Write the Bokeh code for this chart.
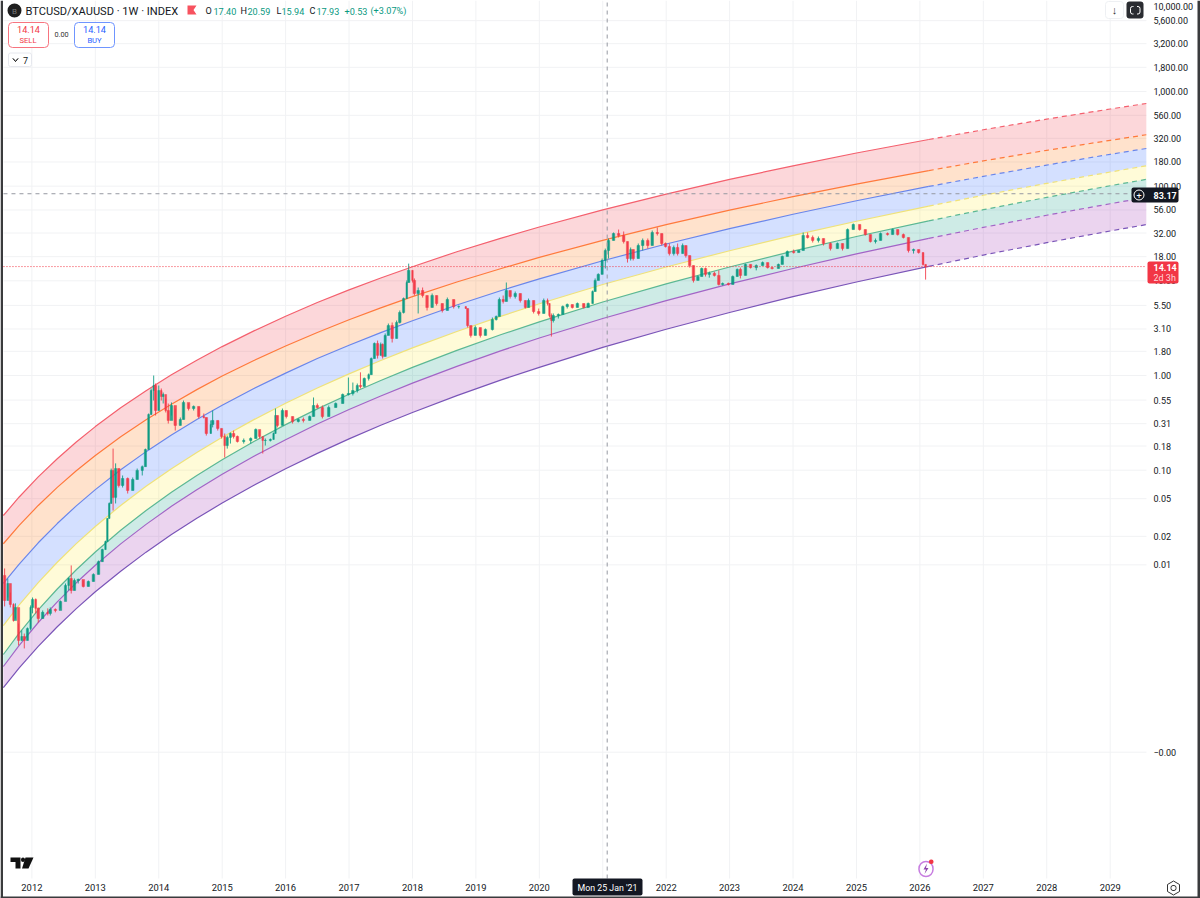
from bokeh.plotting import figure
from bokeh.embed import file_html
from bokeh.resources import INLINE
from bokeh.models import Label, BoxAnnotation, PolyAnnotation, FixedTicker, Range1d

# ---------- axis labels ----------
year_ticks = [2012, 2013, 2014, 2015, 2016, 2017, 2018, 2019, 2020, 2021, 2022, 2023, 2024, 2025, 2026, 2027, 2028, 2029]
price_ticks = [5600, 3200, 1800, 1000, 560, 320, 180, 100, 56, 32, 18, 10, 5.5, 3.1, 1.8, 1, 0.55, 0.31, 0.18, 0.1, 0.05, 0.02, 0.01, 0.000105]
price_labels = ["5,600.00", "3,200.00", "1,800.00", "1,000.00", "560.00", "320.00", "180.00", "100.00", "56.00", "32.00", "18.00", "10.00",
                "5.50", "3.10", "1.80", "1.00", "0.55", "0.31", "0.18", "0.10", "0.05", "0.02", "0.01", "\u22120.00"]

# ---------- rainbow band edges, read at these years ----------
band_years = [2011.55, 2011.8, 2012.1, 2012.4, 2012.7, 2013, 2013.4, 2013.8, 2014.2, 2014.6, 2015, 2015.5, 2016, 2016.5, 2017, 2017.5, 2018, 2018.7, 2019.4, 2020, 2021, 2022, 2023, 2024, 2025, 2026.14, 2027, 2028, 2029, 2029.57]
band_red = [0.0332, 0.0521, 0.0849, 0.1322, 0.1984, 0.2886, 0.456, 0.692, 1.016, 1.45, 2.02, 2.96, 4.23, 5.9, 8.03, 10.7, 14.1, 20.3, 28.3, 37.0, 56.2, 82.5, 118, 164, 224, 311, 394, 511, 653, 747]
band_orange = [0.0167, 0.0261, 0.0424, 0.0658, 0.0985, 0.1429, 0.225, 0.34, 0.498, 0.709, 0.986, 1.44, 2.05, 2.85, 3.88, 5.18, 6.8, 9.72, 13.5, 17.7, 26.8, 39.2, 55.8, 77.5, 105, 146, 185, 239, 305, 349]
band_blue = [0.00636, 0.0102, 0.0171, 0.0273, 0.042, 0.0623, 0.101, 0.157, 0.235, 0.343, 0.486, 0.729, 1.06, 1.51, 2.09, 2.84, 3.79, 5.55, 7.9, 10.5, 16.3, 24.5, 35.6, 50.5, 70.1, 99.3, 127, 167, 217, 250]
band_yellow = [0.00228, 0.00377, 0.0065, 0.01066, 0.01676, 0.02545, 0.0424, 0.0675, 0.1037, 0.154, 0.223, 0.342, 0.509, 0.737, 1.04, 1.44, 1.96, 2.92, 4.24, 5.73, 9.14, 14.0, 20.8, 30.2, 42.6, 61.6, 80.1, 107, 141, 164]
band_green = [0.00113, 0.0019, 0.00334, 0.00556, 0.00888, 0.01368, 0.0232, 0.0375, 0.0584, 0.088, 0.129, 0.201, 0.303, 0.444, 0.634, 0.886, 1.22, 1.84, 2.71, 3.69, 5.98, 9.3, 14.0, 20.6, 29.4, 43.0, 56.4, 76.1, 101, 118]
band_purple = [0.000844, 0.00141, 0.00246, 0.00407, 0.00646, 0.00989, 0.01666, 0.02676, 0.0415, 0.0622, 0.0907, 0.14, 0.21, 0.307, 0.437, 0.608, 0.83, 1.25, 1.83, 2.49, 4.0, 6.19, 9.29, 13.5, 19.3, 28.1, 36.7, 49.3, 65.2, 76.0]
band_bottom = [0.000506, 0.000816, 0.001374, 0.00222, 0.00345, 0.00519, 0.00857, 0.01362, 0.02087, 0.03105, 0.04494, 0.0692, 0.1034, 0.1505, 0.214, 0.298, 0.407, 0.613, 0.899, 1.22, 1.98, 3.08, 4.63, 6.8, 9.72, 14.2, 18.7, 25.3, 33.6, 39.3]
solid_until = 2026.14

# ---------- price candles ----------
first_open = 0.00773
candle_years = [
 2011.57, 2011.62, 2011.66, 2011.71, 2011.74, 2011.79, 2011.84, 2011.88, 2011.93, 2011.98,
 2012.01, 2012.06, 2012.10, 2012.17, 2012.25, 2012.29, 2012.37, 2012.45, 2012.53, 2012.58,
 2012.62, 2012.67, 2012.73, 2012.81, 2012.89, 2012.97, 2013.05, 2013.11, 2013.16, 2013.19,
 2013.22, 2013.25, 2013.28, 2013.32, 2013.37, 2013.43, 2013.51, 2013.59, 2013.66, 2013.74,
 2013.79, 2013.84, 2013.88, 2013.92, 2013.95, 2014.00, 2014.04, 2014.07, 2014.11, 2014.15,
 2014.20, 2014.26, 2014.34, 2014.39, 2014.47, 2014.55, 2014.63, 2014.71, 2014.75, 2014.82,
 2014.85, 2014.93, 2014.99, 2015.04, 2015.08, 2015.13, 2015.18, 2015.24, 2015.34, 2015.45,
 2015.53, 2015.59, 2015.64, 2015.68, 2015.76, 2015.81, 2015.84, 2015.87, 2015.95, 2016.01,
 2016.11, 2016.20, 2016.28, 2016.38, 2016.44, 2016.50, 2016.58, 2016.68, 2016.79, 2016.90,
 2016.99, 2017.06, 2017.13, 2017.18, 2017.24, 2017.31, 2017.35, 2017.40, 2017.45, 2017.50,
 2017.53, 2017.57, 2017.62, 2017.68, 2017.75, 2017.80, 2017.86, 2017.91, 2017.94, 2018.00,
 2018.03, 2018.09, 2018.16, 2018.23, 2018.31, 2018.38, 2018.47, 2018.55, 2018.65, 2018.73,
 2018.84, 2018.87, 2018.92, 2018.99, 2019.07, 2019.15, 2019.26, 2019.32, 2019.37, 2019.43,
 2019.48, 2019.54, 2019.62, 2019.70, 2019.78, 2019.83, 2019.91, 2019.99, 2020.07, 2020.13,
 2020.16, 2020.19, 2020.22, 2020.30, 2020.37, 2020.44, 2020.52, 2020.60, 2020.70, 2020.77,
 2020.84, 2020.88, 2020.93, 2020.99, 2021.04, 2021.09, 2021.17, 2021.25, 2021.33, 2021.39,
 2021.44, 2021.48, 2021.56, 2021.63, 2021.71, 2021.78, 2021.86, 2021.93, 2021.99, 2022.05,
 2022.12, 2022.18, 2022.26, 2022.31, 2022.37, 2022.43, 2022.50, 2022.56, 2022.62, 2022.68,
 2022.76, 2022.83, 2022.89, 2022.98, 2023.05, 2023.12, 2023.17, 2023.25, 2023.33, 2023.42,
 2023.52, 2023.60, 2023.67, 2023.77, 2023.83, 2023.91, 2024.01, 2024.09, 2024.16, 2024.23,
 2024.31, 2024.40, 2024.48, 2024.59, 2024.70, 2024.78, 2024.86, 2024.95, 2025.05, 2025.14,
 2025.22, 2025.30, 2025.38, 2025.49, 2025.57, 2025.65, 2025.74, 2025.82, 2025.90, 2025.98,
 2026.05, 2026.09]
candle_close = [
 0.0042, 0.00635, 0.00382, 0.00258, 0.00355, 0.00159, 0.00175, 0.00159, 0.00212, 0.00355,
 0.00431, 0.00347, 0.00271, 0.00315, 0.00307, 0.00338, 0.0033, 0.0041, 0.00606, 0.00717,
 0.00536, 0.00683, 0.007, 0.00591, 0.00667, 0.00793, 0.0108, 0.0145, 0.0176, 0.0309,
 0.0445, 0.0994, 0.0516, 0.104, 0.0689, 0.0817, 0.061, 0.0797, 0.0994, 0.109,
 0.165, 0.387, 0.694, 0.784, 0.427, 0.694, 0.6, 0.63, 0.427, 0.335,
 0.482, 0.297, 0.343, 0.519, 0.448, 0.471, 0.369, 0.36, 0.244, 0.304,
 0.335, 0.276, 0.227, 0.182, 0.222, 0.244, 0.227, 0.201, 0.206, 0.216,
 0.269, 0.227, 0.206, 0.206, 0.211, 0.244, 0.378, 0.297, 0.427, 0.369,
 0.327, 0.343, 0.335, 0.369, 0.482, 0.459, 0.369, 0.459, 0.506, 0.63,
 0.645, 0.694, 0.784, 0.765, 0.93, 1.02, 1.51, 2.18, 1.63, 2.13,
 1.59, 2.65, 3.37, 2.46, 3.63, 4.63, 6.5, 9.6, 12.9, 10.1,
 7.35, 7.9, 7.0, 5.23, 7.0, 5.76, 4.86, 6.35, 5.35, 5.35,
 5.1, 3.37, 2.65, 3.21, 2.65, 3.06, 3.9, 4.2, 6.35, 6.05,
 7.9, 6.83, 7.35, 6.2, 5.23, 6.2, 4.74, 4.52, 6.2, 5.76,
 4.3, 3.81, 4.3, 4.41, 5.35, 5.62, 5.23, 5.76, 5.23, 5.76,
 7.71, 10.1, 11.7, 16.4, 20.9, 26.7, 31.6, 30.1, 26.0, 17.2,
 21.4, 17.2, 23.6, 26.7, 23.6, 32.4, 31.6, 24.8, 23.0, 19.4,
 22.5, 19.4, 23.6, 18.5, 14.5, 10.1, 11.1, 13.5, 11.7, 12.0,
 11.4, 9.15, 9.37, 9.15, 11.1, 13.2, 11.4, 14.9, 13.8, 14.5,
 15.6, 13.8, 13.5, 14.9, 18.1, 20.4, 19.9, 20.9, 30.1, 28.7,
 26.7, 28.0, 24.8, 21.9, 24.8, 21.9, 34.8, 39.4, 34.8, 30.8,
 26.0, 26.7, 31.6, 30.8, 34.8, 30.8, 28.7, 20.9, 21.4, 19.9,
 14.9, 14.14]
candle_high = [
 0.00916, 0.00717, 0.0051, 0.00392, 0.00392, 0.0024, 0.00203, 0.00188, 0.00218, 0.00373,
 0.00452, 0.00441, 0.00355, 0.0033, 0.00347, 0.00355, 0.00347, 0.0042, 0.00635, 0.00735,
 0.00986, 0.00717, 0.00717, 0.00683, 0.00683, 0.00812, 0.0111, 0.0148, 0.018, 0.0309,
 0.0456, 0.104, 0.169, 0.118, 0.104, 0.0879, 0.0837, 0.0837, 0.104, 0.112,
 0.169, 0.397, 0.729, 1.0, 0.823, 0.784, 0.729, 0.661, 0.572, 0.506,
 0.519, 0.448, 0.36, 0.544, 0.506, 0.482, 0.471, 0.397, 0.36, 0.335,
 0.427, 0.335, 0.276, 0.244, 0.232, 0.25, 0.262, 0.232, 0.216, 0.222,
 0.276, 0.262, 0.222, 0.216, 0.216, 0.25, 0.448, 0.378, 0.448, 0.427,
 0.369, 0.352, 0.36, 0.378, 0.586, 0.506, 0.482, 0.482, 0.519, 0.645,
 0.952, 0.843, 0.823, 1.08, 0.952, 1.05, 1.55, 2.23, 2.34, 2.23,
 2.18, 2.78, 3.54, 3.63, 3.81, 4.86, 6.66, 10.1, 15.2, 12.9,
 10.6, 8.5, 8.5, 7.0, 7.35, 7.0, 5.76, 6.66, 6.35, 5.49,
 5.35, 5.1, 3.37, 3.37, 3.21, 3.14, 4.1, 4.3, 6.66, 7.0,
 9.6, 7.9, 7.71, 7.35, 6.2, 6.5, 6.2, 5.1, 6.5, 6.5,
 5.76, 4.52, 4.52, 4.52, 5.49, 5.76, 5.62, 5.9, 5.76, 5.9,
 7.9, 10.6, 12.0, 17.2, 21.9, 28.0, 32.4, 34.8, 33.2, 26.0,
 22.5, 21.4, 24.8, 28.0, 28.0, 34.0, 36.6, 31.6, 25.4, 24.8,
 23.6, 24.8, 24.8, 23.6, 18.5, 14.5, 11.4, 13.8, 13.8, 12.5,
 12.5, 12.9, 9.6, 9.6, 11.4, 13.5, 13.8, 15.2, 14.9, 14.9,
 16.0, 15.6, 14.14, 15.2, 18.5, 20.9, 21.4, 20.9, 32.4, 32.4,
 30.1, 29.4, 28.0, 25.4, 25.4, 24.8, 35.7, 40.3, 39.4, 34.8,
 30.8, 28.0, 32.4, 32.4, 35.7, 34.8, 31.6, 28.7, 21.9, 21.4,
 19.9, 14.9]
candle_low = [
 0.00364, 0.00452, 0.00355, 0.00252, 0.00271, 0.00141, 0.00159, 0.00131, 0.00159, 0.00203,
 0.00307, 0.00307, 0.00246, 0.00271, 0.00292, 0.00292, 0.00315, 0.00347, 0.00476, 0.00536,
 0.00498, 0.00536, 0.00635, 0.00577, 0.00591, 0.00667, 0.00793, 0.0108, 0.0145, 0.0176,
 0.0309, 0.0445, 0.0375, 0.0445, 0.0656, 0.0656, 0.0567, 0.061, 0.0797, 0.0879,
 0.109, 0.165, 0.387, 0.544, 0.378, 0.427, 0.544, 0.506, 0.407, 0.311,
 0.378, 0.262, 0.297, 0.343, 0.427, 0.427, 0.352, 0.352, 0.232, 0.244,
 0.283, 0.262, 0.216, 0.136, 0.169, 0.191, 0.216, 0.196, 0.191, 0.191,
 0.216, 0.216, 0.15, 0.182, 0.201, 0.211, 0.244, 0.283, 0.297, 0.352,
 0.311, 0.319, 0.319, 0.335, 0.369, 0.448, 0.352, 0.369, 0.459, 0.506,
 0.615, 0.615, 0.661, 0.729, 0.765, 0.885, 1.02, 1.51, 1.51, 1.63,
 1.51, 1.59, 2.65, 2.23, 2.46, 3.54, 4.52, 6.5, 9.6, 9.6,
 7.0, 4.52, 6.66, 4.86, 5.23, 5.49, 4.63, 4.86, 5.1, 5.1,
 5.1, 3.21, 2.52, 2.65, 2.52, 2.65, 2.99, 3.81, 4.2, 5.76,
 6.05, 6.5, 6.5, 5.9, 5.1, 5.23, 4.52, 4.3, 4.52, 5.49,
 4.1, 2.58, 3.63, 4.0, 4.41, 5.1, 5.1, 5.23, 5.1, 5.23,
 5.76, 7.71, 10.1, 11.7, 13.5, 17.2, 26.7, 28.7, 24.8, 15.6,
 16.4, 16.4, 17.2, 20.9, 21.9, 23.6, 30.1, 23.6, 22.5, 18.5,
 18.5, 18.5, 19.4, 17.6, 13.8, 9.6, 10.1, 11.1, 11.1, 10.8,
 11.1, 8.92, 8.92, 8.92, 9.15, 11.1, 10.6, 11.4, 13.5, 12.9,
 14.5, 13.5, 13.2, 13.5, 14.9, 18.1, 19.4, 19.9, 20.9, 28.0,
 25.4, 25.4, 23.6, 20.9, 21.9, 20.9, 21.9, 34.8, 34.0, 30.1,
 25.4, 24.8, 26.7, 30.1, 30.8, 30.1, 28.0, 19.9, 19.4, 19.4,
 14.5, 10.3]

# ---------- readouts ----------
last_price = 14.14
cross_price = 83.17
cross_year = 2021.07

FONT = "Roboto"
INK = "#131722"
UP = "#089981"
DOWN = "#f23645"

# the chart pane; the frame itself covers the whole canvas and the axes sit at the pane's edges
PANE_X = (2011.552, 2029.572)
PANE_Y = (4.86e-6, 9143)

p = figure(width=1200, height=898, output_backend="svg", toolbar_location=None,
           y_axis_type="log", y_axis_location="right",
           x_range=Range1d(2011.505, 2030.424), y_range=Range1d(2.99e-6, 9143),
           min_border_left=0, min_border_right=0, min_border_top=0, min_border_bottom=0)
p.outline_line_color = None
p.background_fill_color = "white"
p.grid.visible = False

p.xaxis[0].fixed_location = PANE_Y[0]
p.yaxis[0].fixed_location = PANE_X[1]
for ax in (p.xaxis[0], p.yaxis[0]):
    ax.axis_line_color = None
    ax.major_tick_line_color = None
    ax.minor_tick_line_color = None
    ax.major_tick_in = 0
    ax.major_tick_out = 0
    ax.minor_tick_in = 0
    ax.minor_tick_out = 0
    ax.major_label_text_font = FONT
    ax.major_label_text_color = INK
p.xaxis[0].major_label_text_font_size = "9.4px"
p.yaxis[0].major_label_text_font_size = "9px"
p.xaxis[0].ticker = FixedTicker(ticks=year_ticks)
p.xaxis[0].major_label_overrides = {y: str(y) for y in year_ticks}
p.xaxis[0].major_label_standoff = 5
p.yaxis[0].ticker = FixedTicker(ticks=price_ticks)
p.yaxis[0].major_label_overrides = dict(zip(price_ticks, price_labels))
p.yaxis[0].major_label_standoff = 7

# grid rules stop at the pane's edges
GRID = "#f1f2f4"
p.segment(year_ticks, [PANE_Y[0]] * len(year_ticks), year_ticks, [PANE_Y[1]] * len(year_ticks), line_color=GRID, line_width=1, level="underlay")
p.segment([PANE_X[0]] * len(price_ticks), price_ticks, [PANE_X[1]] * len(price_ticks), price_ticks, line_color=GRID, line_width=1, level="underlay")

# bands
edges = [band_red, band_orange, band_blue, band_yellow, band_green, band_purple, band_bottom]
fills = ["#f23645", "#ff6d00", "#2962ff", "#ffeb3b", "#089981", "#9c27b0"]
strokes = ["#f4606e", "#ff7a3c", "#6a86ea", "#efe27a", "#5cb894", "#a265c6", "#7a55b8"]
for i, c in enumerate(fills):
    p.varea(x=band_years, y1=edges[i], y2=edges[i + 1], fill_color=c, fill_alpha=0.2)
split = band_years.index(solid_until)
for e, c in zip(edges, strokes):
    p.line(band_years[:split + 1], e[:split + 1], line_color=c, line_width=1.2)
    p.line(band_years[split:], e[split:], line_color=c, line_width=1.2, line_dash=[5, 4])

# candles
opens = [first_open] + candle_close[:-1]
cols = [UP if c >= o else DOWN for o, c in zip(opens, candle_close)]
gaps = [b - a for a, b in zip(candle_years, candle_years[1:])] + [0.04]
body_w = [min(max(g * 0.7, 0.024), 0.04) for g in gaps]
p.segment(candle_years, candle_low, candle_years, candle_high, line_color=cols, line_width=1, line_alpha=0.85)
p.vbar(x=candle_years, width=body_w, top=candle_close, bottom=opens, fill_color=cols, line_color=cols, line_width=0.5, fill_alpha=0.85, line_alpha=0.85)

# cross-hair and last price line
p.line(PANE_X, [last_price, last_price], line_color=DOWN, line_dash=[1, 2], line_width=1)
p.line([cross_year, cross_year], PANE_Y, line_color="#9598a1", line_dash=[4, 4], line_width=1)
p.line(PANE_X, [cross_price, cross_price], line_color="#9598a1", line_dash=[4, 4], line_width=1)


def box(l, r, t, b, fill=None, line=None, radius=0, lw=1):
    p.add_layout(BoxAnnotation(left=l, right=r, top=t, bottom=b,
                               left_units="canvas", right_units="canvas", top_units="canvas", bottom_units="canvas",
                               fill_color=fill or "white", fill_alpha=1 if fill else 0,
                               line_color=line or "white", line_alpha=1 if line else 0, line_width=lw,
                               border_radius=int(radius)))


def poly(xs, ys, fill=None, line=None, lw=1):
    p.add_layout(PolyAnnotation(xs=xs, ys=ys, xs_units="canvas", ys_units="canvas",
                                fill_color=fill or "white", fill_alpha=1 if fill else 0,
                                line_color=line or "white", line_alpha=1 if line else 0, line_width=lw))


def text(x, y, s, size=10, color=INK, align="left", weight="normal", baseline="middle"):
    p.add_layout(Label(x=x, y=y, x_units="canvas", y_units="canvas", text=s, text_font=FONT,
                       text_font_size=f"{size}px", text_color=color, text_align=align,
                       text_baseline=baseline, text_font_style=weight))


# top price label, just inside the picture
text(1153, 5.5, "10,000.00", 9)

# header
box(7, 21, 3, 17, fill="#1f1f1f", radius=7)
text(14, 10.5, "B", 8, "#777777", "center")
text(25, 10.5, "BTCUSD/XAUUSD \u00b7 1W \u00b7 INDEX", 11.1)
poly([187, 196, 193, 196, 187], [5, 5, 9.5, 14, 14], fill="#f7525f")
for x, s, c in [(205, "O", INK), (213, "17.40", UP), (240, "H", INK), (247, "20.59", UP), (276, "L", INK), (281, "15.94", UP),
                (309, "C", INK), (316, "17.93", UP), (344, "+0.53", UP), (370, "(+3.07%)", UP)]:
    text(x, 10.5, s, 9.1, c)

# sell / buy
box(8, 48, 22, 47, fill="white", line="#f7747f", radius=4)
text(28, 29, "14.14", 9.2, DOWN, "center")
text(27.5, 39.5, "SELL", 7.6, DOWN, "center")
text(61, 34, "0.00", 7.3, "#333333", "center")
box(74, 114, 22, 47, fill="white", line="#6f95ff", radius=4)
text(94, 29, "14.14", 9.2, "#2962ff", "center")
text(94, 39.5, "BUY", 7.6, "#2962ff", "center")
box(8, 31, 52.5, 66, fill="white", line="#e6e8ee", radius=2)
poly([12.5, 15, 17.5, 15], [58, 61, 58, 61], line="#333333")
text(22.5, 59.5, "7", 9)

# top right buttons
box(1105, 1123, 1, 18, fill="white", line="#eef0f3", radius=3)
text(1114, 10, "\u2193", 11, "#333333", "center")
box(1126, 1143, 1, 18, fill="#2a2c31", radius=3)
box(1130, 1139.5, 6, 13.5, line="white", radius=2)
box(1133, 1136.5, 5, 15, fill="#2a2c31")

# price tags
box(1131, 1178, 187, 202, fill="#131722", radius=2)
box(1133.5, 1143.5, 189.5, 199.5, line="white", radius=5)
text(1138.5, 194.5, "+", 9, "white", "center")
text(1153, 194.8, "83.17", 9, "white", weight="bold")
box(1147, 1178, 261, 283, fill=DOWN, radius=2)
text(1153, 267, "14.14", 9, "white", weight="bold")
text(1153, 277.5, "2d 3h", 9, "#ffd5d9")

# date tag
box(572, 642, 878, 895, fill="#131722", radius=2)
text(607, 887, "Mon 25 Jan '21", 8.8, "white", "center")

# bottom logo and icons
poly([10, 20, 20, 15, 15, 10], [857, 857, 868, 868, 861.5, 861.5], fill="#111111")
box(20.5, 24.5, 857, 861.5, fill="#111111", radius=2)
poly([25, 33, 28, 21.5], [857, 857, 868, 868], fill="#111111")
box(918.5, 932.5, 861, 876, line="#c77de0", radius=7, lw=1.5)
poly([926.5, 923, 925.5, 924, 928, 925.5], [863, 869, 869, 873.5, 867.5, 867.5], fill="#8e44ad")
box(928.5, 933, 859, 863.5, fill=DOWN, radius=2)
poly([1173, 1179, 1179, 1173, 1167, 1167], [880.5, 884, 891, 894.5, 891, 884], line="#333333")
box(1170.5, 1175.5, 885, 890, line="#333333", radius=2)

# window edge
box(0, 2.5, 0, 898, fill="#3a3b3d")
box(1197, 1200, 0, 898, fill="#3a3b3d")
box(0, 1200, 896, 898, fill="#3a3b3d")

open("out.html", "w").write(file_html(p, INLINE))
